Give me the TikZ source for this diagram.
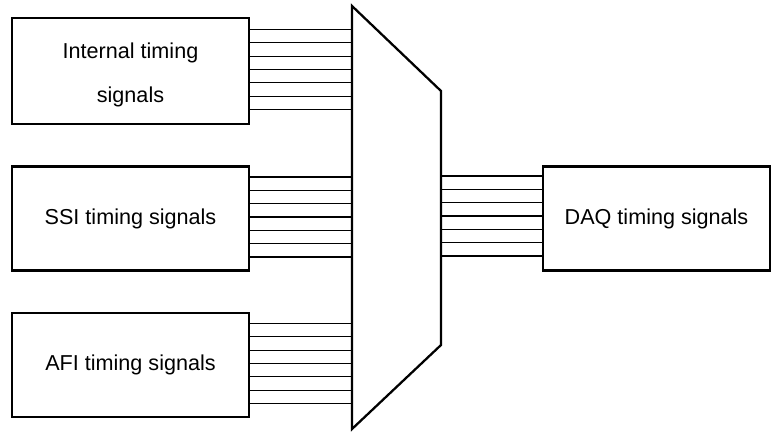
\documentclass[tikz,border=0pt]{standalone}
\usepackage{fontspec}
\setmainfont{Liberation Sans}
\usetikzlibrary{calc}
\tikzset{
  sigbox/.style={draw=black,line width=1.7pt,minimum width=177.75pt,
                 minimum height=78pt,inner sep=0pt,align=center,
                 font=\fontsize{16.2}{32.5}\selectfont},
  busline/.style={draw=black,line width=0.9pt},
  muxedge/.style={draw=black,line width=1.7pt,line join=miter}
}

\begin{document}
\begin{tikzpicture}[x=0.75pt,y=-0.75pt]
    \path[use as bounding box] (0,0) rectangle (771,432);
    % source blocks
    \node[sigbox,minimum height=79.5pt] (intl) at (130.5,71)
      {\rule{0pt}{17.5pt}Internal timing\\signals};
    \node[sigbox] (ssi) at (130.5,218.5) {SSI timing signals};
    \node[sigbox] (afi) at (130.5,365) {AFI timing signals};
    \node[sigbox,minimum width=170.25pt] (daq) at (656.5,218.5)
      {DAQ timing signals};
    % multiplexer
    \coordinate (muxtl) at (352,6);
    \coordinate (muxtr) at (441,91);
    \coordinate (muxbr) at (441,345);
    \coordinate (muxbl) at (352,429);
    \draw[muxedge] (muxtl) -- (muxtr) -- (muxbr) -- (muxbl) -- cycle;
    % buses
    \foreach \src in {intl,ssi,afi}
      \foreach \i in {-3,...,3}
        \draw[busline] ([yshift=\i*10pt+1.1pt]\src.east)
          -- ([yshift=\i*10pt+1.1pt]\src.east -| muxtl);
    \foreach \i in {-3,...,3}
      \draw[busline] ([yshift=\i*10pt+1.9pt]daq.west -| muxtr)
        -- ([yshift=\i*10pt+1.9pt]daq.west);
  \end{tikzpicture}
\end{document}
